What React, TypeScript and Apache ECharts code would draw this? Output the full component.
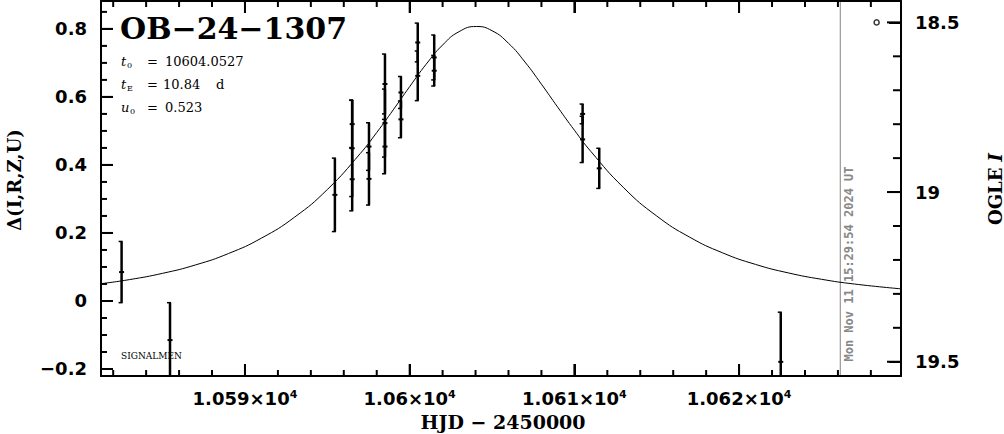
import React, { useEffect, useRef } from "react";
import * as echarts from "echarts";

// ---- axis extents / ticks ----
const X_MIN = 10581.26;
const X_MAX = 10629.83;
const Y_MIN = -0.2206;
const Y_MAX = 0.882;
const MAG_MIN = 18.437;
const MAG_MAX = 19.542;

const xMajorTicks = [10590, 10600, 10610, 10620];
const xMinorTicks = [10582, 10584, 10586, 10588, 10592, 10594, 10596, 10598, 10602, 10604, 10606, 10608, 10612, 10614, 10616, 10618, 10622, 10624, 10626, 10628];
const yMajorTicks = [-0.2, 0, 0.2, 0.4, 0.6, 0.8];
const yMinorTicks = [-0.15, -0.1, -0.05, 0.05, 0.1, 0.15, 0.25, 0.3, 0.35, 0.45, 0.5, 0.55, 0.65, 0.7, 0.75, 0.85];
const magMajorTicks = [18.5, 19, 19.5];
const magMinorTicks = [18.6, 18.7, 18.8, 18.9, 19.1, 19.2, 19.3, 19.4];

// ---- observations (HJD-2450000, Δ mag, error) ----
const obsDates = [10582.51, 10585.45, 10595.46, 10596.51, 10596.51, 10596.51, 10597.53, 10597.53, 10598.5, 10598.5, 10598.5, 10599.47, 10599.47, 10600.49, 10600.49, 10601.49, 10601.49, 10610.5, 10610.5, 10611.51, 10622.53];
const obsDelta = [0.085, -0.115, 0.312, 0.449, 0.358, 0.52, 0.454, 0.359, 0.638, 0.523, 0.454, 0.613, 0.534, 0.76, 0.662, 0.716, 0.677, 0.55, 0.475, 0.39, -0.179];
const obsErr = [0.09, 0.11, 0.108, 0.142, 0.093, 0.07, 0.07, 0.077, 0.088, 0.1, 0.08, 0.047, 0.054, 0.057, 0.073, 0.066, 0.045, 0.029, 0.068, 0.059, 0.146];

// ---- model curve ----
const modelDates = [10581.26, 10583, 10585, 10587, 10589, 10591, 10593, 10595, 10597, 10598, 10599, 10600, 10601, 10602, 10603, 10604.05, 10605, 10606, 10607, 10608, 10609, 10610, 10611, 10613, 10615, 10617, 10619, 10621, 10623, 10625, 10627, 10629.83];
const modelDelta = [0.0508, 0.0629, 0.0813, 0.106, 0.1395, 0.1848, 0.246, 0.3277, 0.4335, 0.4953, 0.5618, 0.6302, 0.696, 0.7526, 0.7919, 0.807, 0.7947, 0.7577, 0.7026, 0.6374, 0.569, 0.5022, 0.4397, 0.3326, 0.2498, 0.1876, 0.1415, 0.1075, 0.0824, 0.0638, 0.0498, 0.0357];

// ---- OGLE baseline marker ----
const ogleDates = [10628.35];
const ogleMags = [18.5];

const NOW_DATE = 10626.146;
const NOW_TEXT = "Mon Nov 11 15:29:54 2024 UT";

const TICK_FONT = "DejaVu Sans";
const SERIF = "DejaVu Serif";
const MAJOR_LEN = 12;
const MINOR_LEN = 6;

function xAxisCfg(position: string, values: number[], label: boolean) {
  return {
    type: "value",
    position,
    min: X_MIN,
    max: X_MAX,
    axisLine: { show: true, onZero: false, lineStyle: { color: "#000", width: 2 } },
    axisTick: { show: true, inside: true, length: MAJOR_LEN, customValues: values, lineStyle: { color: "#000", width: 2 } },
    axisLabel: label
      ? {
          show: true,
          customValues: values,
          margin: 13,
          color: "#000",
          fontFamily: TICK_FONT,
          fontWeight: "bold",
          fontSize: 18,
          formatter: (v: number) => `${parseFloat((v / 1e4).toFixed(4))}×10{sup|4}`,
          rich: {
            sup: { fontSize: 11, fontWeight: "bold", fontFamily: TICK_FONT, color: "#000", verticalAlign: "top" },
          },
        }
      : { show: false },
    splitLine: { show: false },
  };
}

function yAxisCfg(position: string, min: number, max: number, inverse: boolean, values: number[], fmt: (v: number) => string) {
  return {
    type: "value",
    position,
    min,
    max,
    inverse,
    axisLine: { show: true, onZero: false, lineStyle: { color: "#000", width: 2 } },
    axisTick: { show: true, inside: true, length: MAJOR_LEN, customValues: values, lineStyle: { color: "#000", width: 2 } },
    axisLabel: {
      show: true,
      customValues: values,
      margin: 14,
      color: "#000",
      fontFamily: TICK_FONT,
      fontWeight: "bold",
      fontSize: 18,
      formatter: fmt,
    },
    splitLine: { show: false },
  };
}

function txt(text: string, x: number, y: number, size: number, opts: any = {}) {
  const { rotation, align, weight, style, family, italic, fill } = opts;
  const el: any = {
    type: "text",
    x,
    y,
    silent: true,
    style: {
      text,
      fontFamily: family || SERIF,
      fontSize: size,
      fontWeight: weight || "normal",
      fontStyle: italic ? "italic" : "normal",
      fill: fill || "#000",
      textAlign: align || "left",
      align: align || "left",
      textVerticalAlign: "middle",
      verticalAlign: "middle",
      ...(style || {}),
    },
  };
  if (rotation) el.rotation = rotation;
  return el;
}

// tick marks as small filled rects, drawn by a custom series through the axis scales
function tickSeries(side: "x" | "left" | "right", major: number[], minor: number[], yAxisIndex: number) {
  const rows: number[][] = [];
  major.forEach((v) => rows.push(side === "x" ? [v, 0.3, MAJOR_LEN] : [10600, v, MAJOR_LEN]));
  minor.forEach((v) => rows.push(side === "x" ? [v, 0.3, MINOR_LEN] : [10600, v, MINOR_LEN]));
  return {
    type: "custom",
    xAxisIndex: 0,
    yAxisIndex,
    data: rows,
    encode: { x: 0, y: 1 },
    z: 10,
    renderItem: (params: any, api: any) => {
      const cs = params.coordSys;
      const len = api.value(2);
      const p = api.coord([api.value(0), api.value(1)]);
      if (side === "x") {
        const x = p[0];
        const b = cs.y + cs.height;
        return {
          type: "group",
          children: [
            { type: "rect", shape: { x: x - 1, y: b - len, width: 2, height: len }, style: { fill: "#000" } },
            { type: "rect", shape: { x: x - 1, y: cs.y, width: 2, height: len }, style: { fill: "#000" } },
          ],
        };
      }
      const y = p[1];
      const w = side === "right" ? len + 2 : len;
      const x0 = side === "left" ? cs.x : cs.x + cs.width - w;
      return {
        type: "group",
        children: [{ type: "rect", shape: { x: x0, y: y - 1, width: w, height: 2 }, style: { fill: "#000" } }],
      };
    },
  };
}

export default function App() {
  const ref = useRef<HTMLDivElement>(null);
  useEffect(() => {
    const chart = echarts.init(ref.current!, null, { renderer: "svg" });
    const errData = obsDates.map((d, i) => [d, obsDelta[i], obsErr[i]]);
    const modelData = modelDates.map((d, i) => [d, modelDelta[i]]);
    const ogleData = ogleDates.map((d, i) => [d, ogleMags[i]]);

    const texts: any[] = [
      txt("OB−24−1307", 120, 28, 30, { weight: "bold" }),
      txt("t", 121, 61, 13, { italic: true }),
      txt("0", 127, 65, 8),
      txt("=", 147, 61, 13),
      txt("10604.0527", 165, 61, 13),
      txt("t", 121, 84, 13, { italic: true }),
      txt("E", 127, 88, 8),
      txt("=", 147, 84, 13),
      txt("10.84", 163, 84, 13),
      txt("d", 216, 84, 13),
      txt("u", 121, 107, 13, { italic: true }),
      txt("0", 130, 111, 8),
      txt("=", 147, 107, 13),
      txt("0.523", 165, 107, 13),
      txt("SIGNALMEN", 121, 356, 9),
      txt("Δ(I,R,Z,U)", 14, 180, 18, { weight: "bold", align: "center", rotation: Math.PI / 2 }),
      txt("OGLE {i|I}", 995, 189, 18, {
        weight: "bold",
        align: "center",
        rotation: Math.PI / 2,
        style: { rich: { i: { fontStyle: "italic", fontWeight: "bold", fontSize: 18, fontFamily: SERIF, fill: "#000" } } },
      }),
      txt("HJD − 2450000", 503, 422, 19, { weight: "bold", align: "center" }),
      txt(NOW_TEXT, 849, 264, 12, { weight: "bold", align: "center", rotation: Math.PI / 2, family: "DejaVu Sans Mono", fill: "#888" }),
    ];

    const option: any = {
      animation: false,
      backgroundColor: "#fff",
      grid: { left: 101, right: 103, top: 1, bottom: 58, containLabel: false },
      xAxis: [xAxisCfg("bottom", xMajorTicks, true), xAxisCfg("top", xMajorTicks, false)],
      yAxis: [
        yAxisCfg("left", Y_MIN, Y_MAX, false, yMajorTicks, (v: number) => {
          const r = parseFloat(v.toFixed(2));
          return r < 0 ? "−" + Math.abs(r) : String(r);
        }),
        yAxisCfg("right", MAG_MIN, MAG_MAX, true, magMajorTicks, (v: number) => String(parseFloat(v.toFixed(1)))),
      ],
      series: [
        {
          type: "line",
          xAxisIndex: 0,
          yAxisIndex: 0,
          data: modelData,
          smooth: true,
          symbol: "none",
          lineStyle: { color: "#000", width: 1 },
          silent: true,
        },
        {
          type: "custom",
          xAxisIndex: 0,
          yAxisIndex: 0,
          data: errData,
          encode: { x: 0, y: 1 },
          renderItem: (params: any, api: any) => {
            const t = api.value(0);
            const v = api.value(1);
            const e = api.value(2);
            const cs = params.coordSys;
            const top = cs.y;
            const bottom = cs.y + cs.height;
            const c = api.coord([t, v]);
            const x = c[0];
            const yc = c[1];
            const y1 = api.coord([t, v + e])[1];
            const y2 = api.coord([t, v - e])[1];
            const clamp = (y: number) => Math.max(top, Math.min(bottom, y));
            const children: any[] = [
              { type: "line", shape: { x1: x, y1: clamp(y1), x2: x, y2: clamp(y2) }, style: { stroke: "#000", lineWidth: 2.5 } },
            ];
            if (y1 >= top && y1 <= bottom) children.push({ type: "line", shape: { x1: x - 3, y1: y1, x2: x + 1, y2: y1 }, style: { stroke: "#000", lineWidth: 1.5 } });
            if (y2 >= top && y2 <= bottom) children.push({ type: "line", shape: { x1: x - 3, y1: y2, x2: x + 1, y2: y2 }, style: { stroke: "#000", lineWidth: 1.5 } });
            if (yc >= top && yc <= bottom) children.push({ type: "rect", shape: { x: x - 2.5, y: yc - 1, width: 5, height: 2 }, style: { fill: "#000" } });
            return { type: "group", children };
          },
        },
        {
          type: "scatter",
          xAxisIndex: 0,
          yAxisIndex: 1,
          data: ogleData,
          symbol: "circle",
          symbolSize: 5,
          itemStyle: { color: "#fff", borderColor: "#000", borderWidth: 1.5 },
          silent: true,
        },
        tickSeries("x", xMajorTicks, xMinorTicks, 0),
        tickSeries("left", yMajorTicks, yMinorTicks, 0),
        tickSeries("right", magMajorTicks, magMinorTicks, 1),
      ],
      graphic: texts,
    };
    chart.setOption(option);

    const nx = chart.convertToPixel({ xAxisIndex: 0 }, NOW_DATE) as unknown as number;
    const gTop = chart.convertToPixel({ yAxisIndex: 0 }, Y_MAX) as unknown as number;
    const gBot = chart.convertToPixel({ yAxisIndex: 0 }, Y_MIN) as unknown as number;
    chart.setOption({
      graphic: [
        ...texts,
        { type: "line", silent: true, shape: { x1: nx, y1: gTop, x2: nx, y2: gBot }, style: { stroke: "#999", lineWidth: 1.2 } },
      ],
    });

    return () => chart.dispose();
  }, []);
  return <div ref={ref} style={{ position: "absolute", left: 0, top: 0, width: 1004, height: 434, background: "#fff" }} />;
}
